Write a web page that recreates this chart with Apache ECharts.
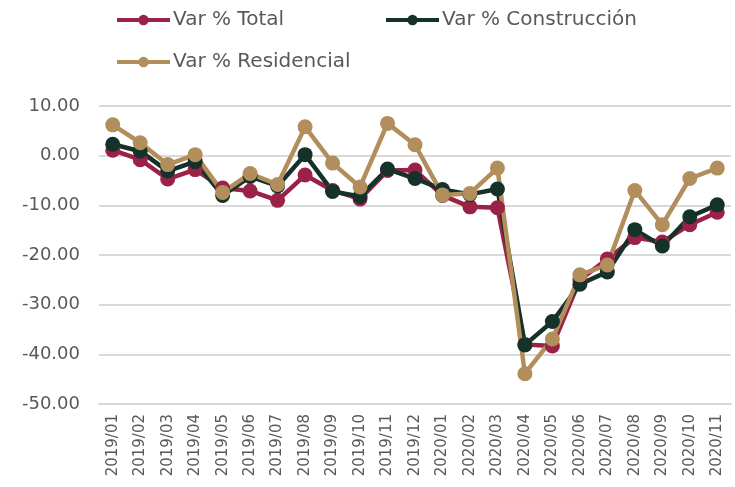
<!DOCTYPE html>
<html>
<head>
<meta charset="utf-8">
<script src="https://cdn.jsdelivr.net/npm/echarts@6/dist/echarts.min.js"></script>
<style>
  html, body { margin: 0; padding: 0; background: #fff; }
  #chart { width: 735px; height: 487px; }
</style>
</head>
<body>
<div id="chart"></div>
<script>
// meses
var months = ['2019/01','2019/02','2019/03','2019/04','2019/05','2019/06','2019/07','2019/08',
  '2019/09','2019/10','2019/11','2019/12','2020/01','2020/02','2020/03','2020/04','2020/05',
  '2020/06','2020/07','2020/08','2020/09','2020/10','2020/11'];

// variaciones %
var varTotal = [1.1, -0.8, -4.7, -2.8, -6.5, -7.1, -9.0, -3.9, -7.0, -8.7, -3.0, -2.9,
  -8.0, -10.3, -10.5, -38.0, -38.3, -25.0, -20.8, -16.5, -17.4, -13.9, -11.4];
var varConstruccion = [2.3, 0.9, -3.1, -1.2, -8.0, -4.2, -6.1, 0.2, -7.2, -8.2, -2.7, -4.6,
  -6.8, -7.8, -6.7, -38.1, -33.4, -25.9, -23.4, -14.9, -18.2, -12.3, -9.9];
var varResidencial = [6.2, 2.6, -1.8, 0.2, -7.4, -3.6, -5.8, 5.8, -1.5, -6.3, 6.5, 2.2,
  -7.9, -7.6, -2.5, -43.9, -36.9, -24.0, -22.0, -7.0, -13.9, -4.6, -2.5];

var txt = '#595959';
var fontFam = 'DejaVu Sans';

var chart = echarts.init(document.getElementById('chart'));

function mkSeries(name, data, color) {
  return {
    name: name,
    type: 'line',
    data: data,
    symbol: 'circle',
    symbolSize: 15,
    lineStyle: { width: 4.5, color: color },
    itemStyle: { color: color },
    emphasis: { disabled: true }
  };
}

var legendBase = {
  itemWidth: 53, itemHeight: 13,
  lineStyle: { width: 4 },
  textStyle: { color: txt, fontSize: 20, fontFamily: fontFam, padding: [0, 0, 0, -2] }
};

chart.setOption({
  animation: false,
  textStyle: { fontFamily: fontFam },
  legend: [
    Object.assign({
      data: ['Var % Total', 'Var % Construcción'],
      left: 110, top: 5, itemGap: 100
    }, legendBase),
    Object.assign({
      data: ['Var % Residencial'],
      left: 110, top: 47
    }, legendBase)
  ],
  grid: { left: 99, right: 4, top: 106, bottom: 83, containLabel: false },
  xAxis: {
    type: 'category',
    data: months,
    boundaryGap: true,
    axisLine: { onZero: false, lineStyle: { color: '#d9d9d9', width: 2 } },
    axisTick: { show: false },
    axisLabel: { rotate: 90, color: txt, fontSize: 15, margin: 10, interval: 0, fontFamily: fontFam }
  },
  yAxis: {
    type: 'value',
    min: -50, max: 10, interval: 10,
    axisLine: { show: false },
    axisTick: { show: false },
    splitLine: { lineStyle: { color: '#d9d9d9', width: 2 } },
    axisLabel: {
      color: txt, fontSize: 18, margin: 19, fontFamily: fontFam,
      formatter: function (v) { return v.toFixed(2); }
    }
  },
  series: [
    mkSeries('Var % Total', varTotal, '#9b2247'),
    mkSeries('Var % Construcción', varConstruccion, '#14312a'),
    mkSeries('Var % Residencial', varResidencial, '#b38e5d')
  ]
});
</script>
</body>
</html>
